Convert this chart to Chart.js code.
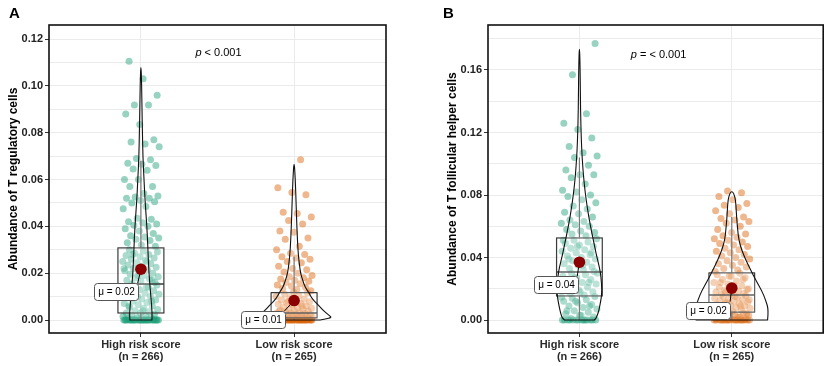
<!DOCTYPE html>
<html><head><meta charset="utf-8">
<script src="https://cdn.jsdelivr.net/npm/chart.js@4/dist/chart.umd.min.js"></script>
<style>
html,body{margin:0;padding:0;background:#fff;}
#wrap{position:relative;width:829px;height:366px;overflow:hidden;}
.pane{position:absolute;top:0;height:366px;}
canvas{display:block;}
</style></head><body>
<div id="wrap">
<div class="pane" style="left:0;width:414px"><canvas id="cA" width="414" height="366"></canvas></div>
<div class="pane" style="left:414px;width:415px"><canvas id="cB" width="415" height="366"></canvas></div>
</div>
<script>
// ---------------- DATA ----------------
const categories = ['High risk score', 'Low risk score'];
const groupSizes = [266, 265];

// Panel A: T regulatory cells (values read from the jittered points)
const tregHigh = [
 0,0,0,0,0,0,0,0,0,0,0,0,0,0,0,0,0,0,0,0,0,0,0,0,0,0,0,0,0,0,
 0.0005,0.001,0.001,0.0015,0.002,0.002,0.0025,0.003,0.003,
 0.0035,0.004,0.0045,0.005,0.0055,0.006,0.0065,0.007,0.0075,0.008,0.0085,0.009,0.0095,0.010,0.0105,
 0.011,0.0115,0.012,0.0125,0.013,0.0135,0.014,0.0145,0.015,0.004,0.006,0.008,0.010,0.012,0.014,
 0.0155,0.016,0.0165,0.017,0.0175,0.018,0.0185,0.019,0.0195,0.020,0.0205,0.021,0.0215,0.022,0.0225,
 0.023,0.0235,0.024,0.0245,0.025,0.0255,0.026,0.0265,0.027,0.0275,0.028,0.0285,0.029,0.0295,0.030,
 0.017,0.019,0.022,0.025,0.028,
 0.0315,0.032,0.033,0.034,0.0345,0.035,0.0355,0.036,0.037,0.038,0.039,0.040,0.0405,0.041,0.0415,
 0.042,0.043,0.0435,0.0475,0.0485,0.050,0.0505,0.051,0.052,0.052,0.0525,0.053,0.054,0.057,0.057,
 0.060,0.060,0.064,0.0645,0.066,0.0665,0.067,0.0685,0.069,0.074,0.0752,0.076,0.077,0.0835,0.088,
 0.0918,0.0918,0.096,0.103,0.1105
];
const tregLow = [
 0,0,0,0,0,0,0,0,0,0,0,0,0,0,0,0,0,0,0,0,0,0,0,0,0,0,0,0,0,0,
 0.0003,0.0005,0.0006,0.0008,0.001,0.001,0.0012,0.0014,0.0015,0.0016,0.0018,0.002,0.002,0.0022,
 0.0024,0.0025,0.0026,0.0028,0.003,0.003,
 0.0032,0.0035,0.0038,0.004,0.0042,0.0045,0.0048,0.005,0.0053,0.0056,0.006,0.0064,0.0068,0.007,
 0.0074,0.0078,0.008,0.0085,0.009,0.0095,0.010,0.0105,0.011,0.0115,0.012,0.004,0.006,0.008,
 0.0125,0.013,0.0135,0.014,0.0145,0.015,0.0155,0.016,0.0165,0.017,0.0175,0.018,0.0185,0.019,
 0.020,0.0205,0.0215,0.022,0.023,0.0245,0.025,0.026,0.0265,0.027,0.028,0.0285,0.030,
 0.0315,0.0345,0.035,0.0375,0.038,0.041,0.0425,0.044,0.0455,0.046,0.0535,0.0545,0.0565,0.0685
];
const tregQ1 = [0.0030, 0.0009];
const tregMedian = [0.0154, 0.0030];
const tregQ3 = [0.0308, 0.0117];
const tregWhiskerLow = [0, 0];
const tregWhiskerHigh = [0.068, 0.027];
const tregMean = [0.0217, 0.0083];
const tregViolinHighY = [0, 0.003, 0.01, 0.02, 0.03, 0.04, 0.05, 0.06, 0.07, 0.08, 0.09, 0.10, 0.1105];
const tregViolinHighW = [0.072, 0.074, 0.065, 0.052, 0.046, 0.039, 0.028, 0.020, 0.013, 0.010, 0.007, 0.005, 0];
const tregViolinLowY = [0, 0.0008, 0.002, 0.003, 0.005, 0.007, 0.009, 0.0115, 0.014, 0.017, 0.02, 0.0245, 0.03, 0.04, 0.05, 0.06, 0.0685];
const tregViolinLowW = [0.170, 0.248, 0.229, 0.209, 0.176, 0.150, 0.118, 0.098, 0.072, 0.056, 0.042, 0.033, 0.025, 0.018, 0.013, 0.008, 0];
const tregTickValues = [0,0.01,0.02,0.03,0.04,0.05,0.06,0.07,0.08,0.09,0.10,0.11,0.12];
const tregTickLabels = ['0.00','','0.02','','0.04','','0.06','','0.08','','0.10','','0.12'];

// Panel B: T follicular helper cells
const tfhHigh = [
 0,0,0,0,0,0,0,0,0,0,0,0,0,0,
 0.001,0.002,0.003,0.004,0.005,0.006,0.007,0.008,0.009,0.010,0.011,0.012,0.013,0.014,0.015,
 0.003,0.006,0.009,0.012,0.0145,
 0.016,0.017,0.018,0.019,0.020,0.021,0.022,0.023,0.024,0.025,0.026,0.027,0.028,0.029,0.030,0.031,
 0.018,0.021,0.024,0.027,0.030,
 0.032,0.033,0.034,0.035,0.036,0.037,0.038,0.039,0.040,0.041,0.042,0.043,0.044,0.045,0.046,0.047,
 0.048,0.049,0.050,0.051,0.052,0.035,0.039,0.043,0.047,0.051,
 0.054,0.055,0.056,0.057,0.058,0.060,0.061,0.062,0.063,0.064,0.066,0.068,0.069,0.071,0.073,0.075,
 0.077,0.079,0.080,0.082,0.083,0.087,0.091,0.093,0.093,0.096,0.099,0.104,0.105,0.107,0.111,0.1165,
 0.122,0.126,0.132,0.157,0.177
];
const tfhLow = [
 0,0,0,0,0,0,0,0,0,0,0,0,0,0,0,0,0,0,
 0.0005,0.001,0.0015,0.002,0.0025,0.003,0.0035,0.004,0.0045,0.005,0.001,0.002,0.003,0.004,
 0.0055,0.006,0.0065,0.007,0.0075,0.008,0.0085,0.009,0.0095,0.010,0.0105,0.011,0.0115,0.012,
 0.0125,0.013,0.0135,0.014,0.0145,0.015,0.0155,0.016,0.007,0.009,0.011,0.013,0.015,
 0.0165,0.017,0.0175,0.018,0.0185,0.019,0.0195,0.020,0.021,0.022,0.023,0.024,0.025,0.026,0.027,
 0.028,0.029,0.030,0.018,0.020,0.022,0.024,0.026,0.028,
 0.031,0.032,0.033,0.034,0.035,0.036,0.037,0.038,0.039,0.040,0.041,0.042,0.043,0.044,0.045,0.046,
 0.047,0.048,0.049,0.050,0.051,0.052,0.053,0.054,0.055,0.056,0.058,0.060,0.062,0.063,0.064,0.065,
 0.066,0.068,0.070,0.072,0.0735,0.0745,0.077,0.079,0.0815,0.0825
];
const tfhQ1 = [0.0154, 0.0050];
const tfhMedian = [0.0307, 0.0160];
const tfhQ3 = [0.0525, 0.0302];
const tfhWhiskerLow = [0, 0];
const tfhWhiskerHigh = [0.104, 0.066];
const tfhMean = [0.0370, 0.0204];
const tfhViolinHighY = [0, 0.0019, 0.0128, 0.019, 0.0275, 0.034, 0.0405, 0.047, 0.0555, 0.066, 0.077, 0.0875, 0.098, 0.109, 0.12, 0.13, 0.141, 0.162, 0.177];
const tfhViolinHighW = [0.098, 0.118, 0.142, 0.148, 0.142, 0.131, 0.114, 0.100, 0.082, 0.061, 0.044, 0.031, 0.022, 0.015, 0.011, 0.0085, 0.0065, 0.0046, 0];
const tfhViolinLowY = [0, 0.0064, 0.0128, 0.019, 0.0256, 0.032, 0.0384, 0.0448, 0.0512, 0.0576, 0.064, 0.0704, 0.0768, 0.081, 0.0825];
const tfhViolinLowW = [0.235, 0.242, 0.222, 0.196, 0.157, 0.124, 0.092, 0.065, 0.046, 0.039, 0.033, 0.029, 0.025, 0.013, 0];
const tfhTickValues = [0,0.02,0.04,0.06,0.08,0.10,0.12,0.14,0.16,0.18];
const tfhTickLabels = ['0.00','','0.04','','0.08','','0.12','','0.16',''];

// ---------------- STYLE / LAYOUT ----------------
const FONT = "'Liberation Sans', Arial, Helvetica, sans-serif";
const pointColors = ['rgba(27,158,119,0.45)', 'rgba(217,95,2,0.45)'];
const GRID = '#ebebeb';

function smoothPath(ctx, pts) {
  ctx.moveTo(pts[0][0], pts[0][1]);
  for (let i = 1; i < pts.length - 1; i++) {
    const mx = (pts[i][0] + pts[i + 1][0]) / 2, my = (pts[i][1] + pts[i + 1][1]) / 2;
    ctx.quadraticCurveTo(pts[i][0], pts[i][1], mx, my);
  }
  const l = pts[pts.length - 1];
  ctx.lineTo(l[0], l[1]);
}

function buildPanel(canvasId, c) {
  const cx = [1, 2];
  const jitterHalf = 0.12;
  const boxHalf = 0.15;
  const pts = c.values.map((vals, g) => vals.map((v, i) => ({
    x: cx[g] + ((((i + 1) * 0.6180339887 + 0.13 * g) % 1) - 0.5) * 2 * jitterHalf,
    y: v
  })));
  const meanPts = c.mean.map((m, g) => ({ x: cx[g], y: m }));
  const isMajor = v => c.tickLabels[c.tickValues.findIndex(t => Math.abs(t - v) < 1e-9)] !== '';

  function labelRect(chart, g) {
    const xs = chart.scales.x, ys = chart.scales.y;
    const px = xs.getPixelForValue(cx[g]), py = ys.getPixelForValue(c.mean[g]);
    const ctx = chart.ctx;
    ctx.font = `10px ${FONT}`;
    const txt = 'μ = ' + c.mean[g].toFixed(2);
    const w = ctx.measureText(txt).width + 7, h = 17;
    const lx = px + c.labelOffset[g][0], ly = py + c.labelOffset[g][1];
    return { txt, px, py, x: lx - w / 2, y: ly - h / 2, w, h };
  }

  const overlay = {
    id: 'overlay',
    afterDatasetDraw(chart, args) {
      if (args.index !== 1) return;   // after both point clouds, before the mean points
      const ctx = chart.ctx, xs = chart.scales.x, ys = chart.scales.y, a = chart.chartArea;
      ctx.save();
      ctx.beginPath(); ctx.rect(a.left, a.top, a.right - a.left, a.bottom - a.top); ctx.clip();
      for (let g = 0; g < 2; g++) {
        const xc = xs.getPixelForValue(cx[g]);
        const x0 = xs.getPixelForValue(cx[g] - boxHalf), x1 = xs.getPixelForValue(cx[g] + boxHalf);
        const yq1 = ys.getPixelForValue(c.q1[g]), yq3 = ys.getPixelForValue(c.q3[g]);
        const ym = ys.getPixelForValue(c.median[g]);
        ctx.fillStyle = 'rgba(255,255,255,0.2)';
        ctx.fillRect(x0, yq3, x1 - x0, yq1 - yq3);
        ctx.strokeStyle = '#3a3a3a'; ctx.lineWidth = 1.2;
        ctx.strokeRect(x0, yq3, x1 - x0, yq1 - yq3);
        ctx.beginPath(); ctx.moveTo(x0, ym); ctx.lineTo(x1, ym); ctx.lineWidth = 1.6; ctx.stroke();
        ctx.lineWidth = 1.2; ctx.strokeStyle = '#555';
        ctx.beginPath();
        ctx.moveTo(xc, yq3); ctx.lineTo(xc, ys.getPixelForValue(c.whiskerHigh[g]));
        ctx.moveTo(xc, yq1); ctx.lineTo(xc, ys.getPixelForValue(c.whiskerLow[g]));
        ctx.stroke();
        const vy = c.violinY[g], vw = c.violinW[g];
        const chain = [];
        for (let i = 0; i < vy.length; i++) chain.push([xs.getPixelForValue(cx[g] + vw[i]), ys.getPixelForValue(vy[i])]);
        for (let i = vy.length - 2; i >= 0; i--) chain.push([xs.getPixelForValue(cx[g] - vw[i]), ys.getPixelForValue(vy[i])]);
        ctx.beginPath();
        smoothPath(ctx, chain);
        ctx.closePath();
        ctx.fillStyle = 'rgba(255,255,255,0.2)'; ctx.fill();
        ctx.strokeStyle = '#111'; ctx.lineWidth = 1.1; ctx.lineJoin = 'round'; ctx.stroke();
      }
      ctx.restore();
      ctx.save();
      for (let g = 0; g < 2; g++) {
        const r = labelRect(chart, g);
        const qx = Math.min(Math.max(r.px, r.x), r.x + r.w), qy = Math.min(Math.max(r.py, r.y), r.y + r.h);
        ctx.beginPath(); ctx.moveTo(r.px, r.py); ctx.lineTo(qx, qy);
        ctx.strokeStyle = '#000'; ctx.lineWidth = 1; ctx.stroke();
      }
      ctx.restore();
    },
    afterDatasetsDraw(chart) {
      const ctx = chart.ctx;
      ctx.save();
      for (let g = 0; g < 2; g++) {
        const r = labelRect(chart, g);
        ctx.beginPath();
        ctx.roundRect(Math.round(r.x) + 0.5, Math.round(r.y) + 0.5, Math.round(r.w), r.h, 3);
        ctx.fillStyle = '#fff'; ctx.fill();
        ctx.strokeStyle = '#555'; ctx.lineWidth = 1; ctx.stroke();
        ctx.fillStyle = '#000'; ctx.font = `10px ${FONT}`;
        ctx.textAlign = 'center'; ctx.textBaseline = 'middle';
        ctx.fillText(r.txt, Math.round(r.x) + 0.5 + Math.round(r.w) / 2, r.y + r.h / 2 + 1);
      }
      ctx.restore();
    },
    afterDraw(chart) {
      const ctx = chart.ctx, a = chart.chartArea;
      ctx.save();
      ctx.strokeStyle = '#111'; ctx.lineWidth = 1.6;
      ctx.strokeRect(a.left, a.top, a.right - a.left, a.bottom - a.top);
      ctx.textBaseline = 'alphabetic'; ctx.textAlign = 'left'; ctx.fillStyle = '#000';
      ctx.font = `italic 11px ${FONT}`; const w1 = ctx.measureText('p').width;
      ctx.font = `11px ${FONT}`; const w2 = ctx.measureText(c.pRest).width;
      const sx = (a.left + a.right) / 2 - (w1 + w2) / 2 + c.pDx;
      ctx.font = `italic 11px ${FONT}`; ctx.fillText('p', sx, c.pBaseline);
      ctx.font = `11px ${FONT}`; ctx.fillText(c.pRest, sx + w1, c.pBaseline);
      ctx.font = `bold 15px ${FONT}`; ctx.fillStyle = '#000';
      ctx.fillText(c.letter, c.letterX, 17.5);
      ctx.restore();
    }
  };

  return new Chart(document.getElementById(canvasId), {
    type: 'scatter',
    data: {
      datasets: [
        { data: pts[0], order: 2, backgroundColor: pointColors[0], borderWidth: 0, pointRadius: 3.5, pointHoverRadius: 3.5 },
        { data: pts[1], order: 1, backgroundColor: pointColors[1], borderWidth: 0, pointRadius: 3.5, pointHoverRadius: 3.5 },
        { data: meanPts, order: 0, backgroundColor: '#8b0000', borderWidth: 0, pointRadius: 5.8, pointHoverRadius: 5.8 }
      ]
    },
    options: {
      responsive: false, animation: false, events: [],
      layout: { padding: { left: 0, right: c.padRight, top: 25, bottom: 0 } },
      plugins: { legend: { display: false }, tooltip: { enabled: false } },
      scales: {
        x: {
          type: 'linear', min: 0.4, max: 2.6,
          afterBuildTicks: s => { s.ticks = [{ value: 1 }, { value: 2 }]; },
          afterFit: s => { s.height = 33; },
          ticks: {
            autoSkip: false, maxRotation: 0, padding: 2,
            color: '#2a2a2a', font: { family: FONT, size: 11, weight: 'bold', lineHeight: 1.1 },
            callback: v => [categories[Math.round(v) - 1], `(n = ${groupSizes[Math.round(v) - 1]})`]
          },
          grid: { color: GRID, lineWidth: 1, tickColor: '#333', tickLength: 4 },
          border: { display: false }
        },
        y: {
          type: 'linear', min: c.yMin, max: c.yMax,
          afterBuildTicks: s => { s.ticks = c.tickValues.map(v => ({ value: v })); },
          afterFit: s => { s.width = c.yWidth; },
          ticks: {
            padding: 2, color: '#222', font: { family: FONT, size: 11, weight: 'bold' },
            callback: (v, i) => c.tickLabels[i]
          },
          grid: {
            color: GRID, lineWidth: 1, tickLength: 4,
            tickColor: ctx => (ctx.tick && isMajor(ctx.tick.value)) ? '#333' : 'rgba(0,0,0,0)'
          },
          border: { display: false },
          title: {
            display: true, text: c.yTitle, color: '#000',
            font: { family: FONT, size: 12, weight: 'bold' },
            padding: { top: c.titlePad, bottom: 0 }
          }
        }
      }
    },
    plugins: [overlay]
  });
}

buildPanel('cA', {
  values: [tregHigh, tregLow],
  q1: tregQ1, median: tregMedian, q3: tregQ3, whiskerLow: tregWhiskerLow, whiskerHigh: tregWhiskerHigh,
  mean: tregMean,
  violinY: [tregViolinHighY, tregViolinLowY], violinW: [tregViolinHighW, tregViolinLowW],
  tickValues: tregTickValues, tickLabels: tregTickLabels,
  yMin: -0.00555, yMax: 0.1260,
  yTitle: 'Abundance of T regulatory cells',
  yWidth: 49, padRight: 28, titlePad: 6,
  labelOffset: [[-25, 22.5], [-31.5, 19]],
  pRest: ' < 0.001', pDx: 1, pBaseline: 55.5,
  letter: 'A', letterX: 9
});
buildPanel('cB', {
  values: [tfhHigh, tfhLow],
  q1: tfhQ1, median: tfhMedian, q3: tfhQ3, whiskerLow: tfhWhiskerLow, whiskerHigh: tfhWhiskerHigh,
  mean: tfhMean,
  violinY: [tfhViolinHighY, tfhViolinLowY], violinW: [tfhViolinHighW, tfhViolinLowW],
  tickValues: tfhTickValues, tickLabels: tfhTickLabels,
  yMin: -0.00832, yMax: 0.1888,
  yTitle: 'Abundance of T follicular helper cells',
  yWidth: 74, padRight: 4, titlePad: 31,
  labelOffset: [[-24, 22.5], [-23.5, 22]],
  pRest: ' = < 0.001', pDx: 3, pBaseline: 58,
  letter: 'B', letterX: 29
});
</script>
</body></html>
